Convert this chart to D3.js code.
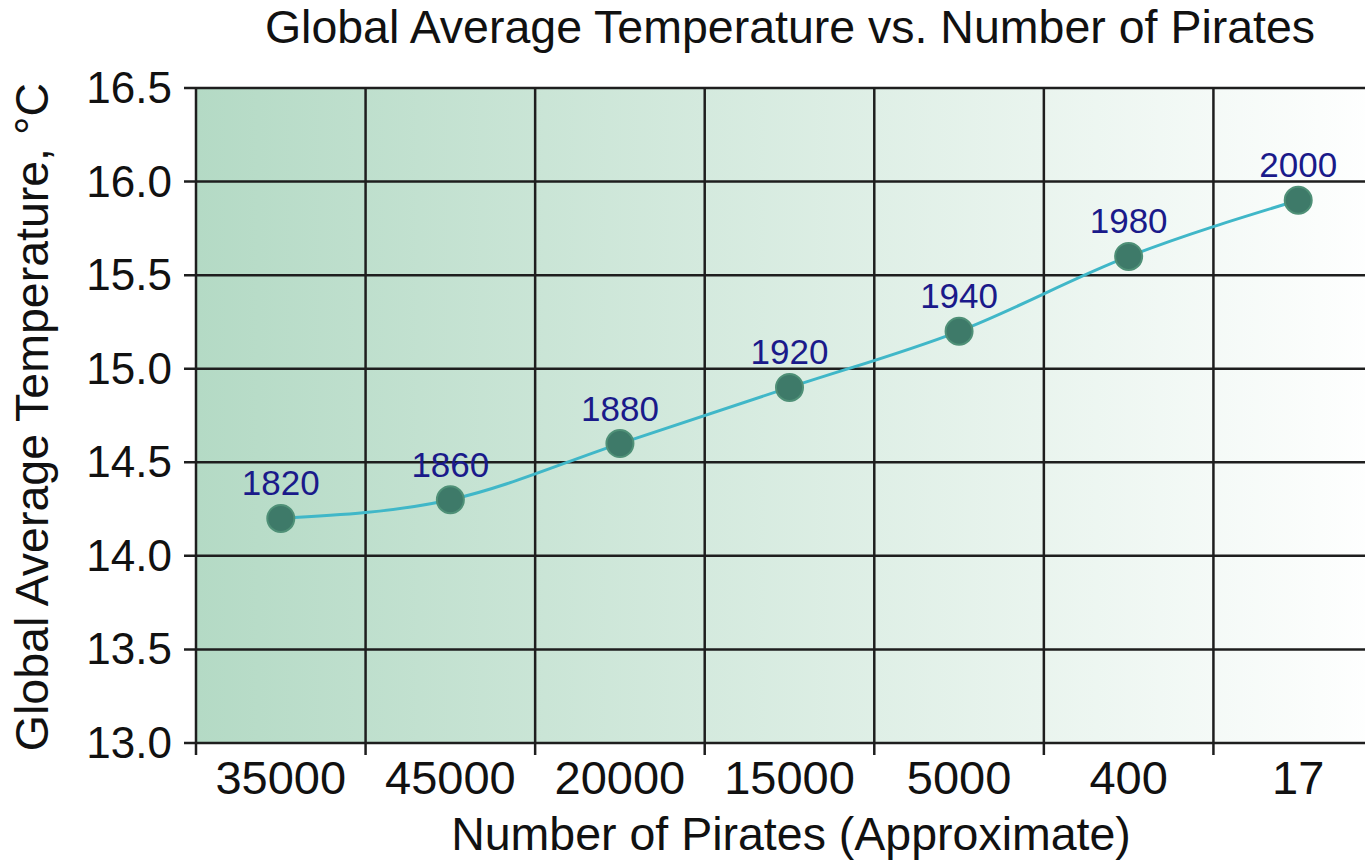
<!DOCTYPE html>
<html><head><meta charset="utf-8">
<script src="https://cdn.jsdelivr.net/npm/d3@7/dist/d3.min.js"></script>
<style>body{margin:0;background:#fff;overflow:hidden}text{font-family:"Liberation Sans",Arial,sans-serif}</style>
</head><body>
<svg id="c" width="1365" height="860"></svg>
<script>
const pirates = ["35000","45000","20000","15000","5000","400","17"];
const years = ["1820","1860","1880","1920","1940","1980","2000"];
const temps = [14.2,14.3,14.6,14.9,15.2,15.6,15.9];
const yTicks = [13.0,13.5,14.0,14.5,15.0,15.5,16.0,16.5];

const svg = d3.select("#c");
const L=196, R=1383, T=88, B=743;
const x = d3.scaleBand().domain(pirates).range([L,R]);
const y = d3.scaleLinear().domain([13,16.5]).range([B,T]);

const defs = svg.append("defs");
const g = defs.append("linearGradient").attr("id","bg").attr("gradientUnits","userSpaceOnUse")
  .attr("x1",L).attr("x2",R).attr("y1",0).attr("y2",0);
g.append("stop").attr("offset","0").attr("stop-color","#b4dac5");
g.append("stop").attr("offset","1").attr("stop-color","#ffffff");
svg.append("rect").attr("x",L).attr("y",T).attr("width",R-L).attr("height",B-T).attr("fill","url(#bg)");

// horizontal grid
svg.append("g").selectAll("line").data(yTicks).join("line")
  .attr("x1",L-12).attr("x2",R).attr("y1",d=>y(d)).attr("y2",d=>y(d))
  .attr("stroke","#1e1e1e").attr("stroke-width",2.5);
// vertical grid at band boundaries
const bounds = pirates.map(p=>x(p)).concat([R]);
svg.append("g").selectAll("line").data(bounds).join("line")
  .attr("x1",d=>d).attr("x2",d=>d).attr("y1",T).attr("y2",B+12)
  .attr("stroke","#1e1e1e").attr("stroke-width",2.5);

// y tick labels
svg.append("g").selectAll("text").data(yTicks).join("text")
  .attr("x",172).attr("y",d=>y(d)+15).attr("text-anchor","end")
  .attr("font-size",44).attr("fill","#111").text(d=>d.toFixed(1));
// x tick labels
svg.append("g").selectAll("text").data(pirates).join("text")
  .attr("x",d=>x(d)+x.bandwidth()/2).attr("y",794).attr("text-anchor","middle")
  .attr("font-size",47).attr("fill","#111").text(d=>d);

// line
const pts = pirates.map((p,i)=>({x:x(p)+x.bandwidth()/2,y:y(temps[i]),yr:years[i]}));
svg.append("path").datum(pts)
  .attr("d",d3.line().x(d=>d.x).y(d=>d.y).curve(d3.curveMonotoneX))
  .attr("fill","none").attr("stroke","#40b7c8").attr("stroke-width",3);
svg.append("g").selectAll("circle").data(pts).join("circle")
  .attr("cx",d=>d.x).attr("cy",d=>d.y).attr("r",13.5)
  .attr("fill","#3e7a69").attr("stroke","#4f9077").attr("stroke-width",2);
svg.append("g").selectAll("text").data(pts).join("text")
  .attr("x",d=>d.x).attr("y",d=>d.y-23).attr("text-anchor","middle")
  .attr("font-size",35).attr("fill","#1a1a8a").text(d=>d.yr);

// titles
svg.append("text").attr("x",790).attr("y",43).attr("text-anchor","middle")
  .attr("font-size",46.5).attr("fill","#111").text("Global Average Temperature vs. Number of Pirates");
svg.append("text").attr("x",791).attr("y",850).attr("text-anchor","middle")
  .attr("font-size",46.5).attr("fill","#111").text("Number of Pirates (Approximate)");
svg.append("text").attr("transform","translate(48,417) rotate(-90)").attr("text-anchor","middle")
  .attr("font-size",46.5).attr("fill","#111").text("Global Average Temperature, °C");
</script>
</body></html>
